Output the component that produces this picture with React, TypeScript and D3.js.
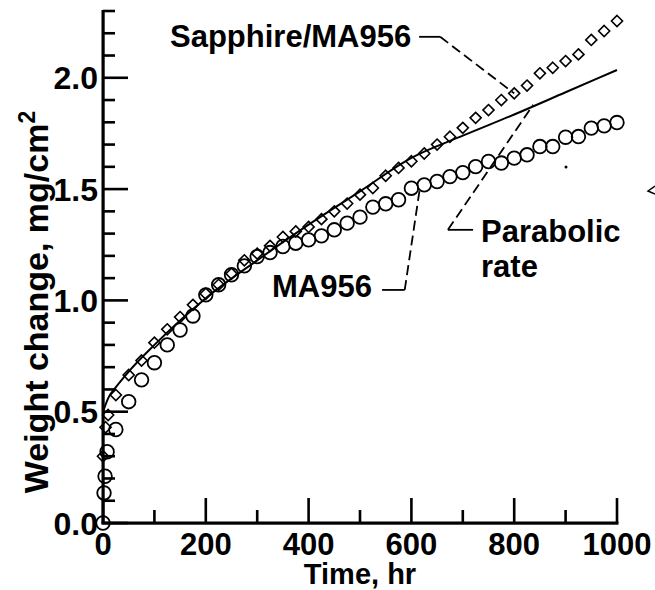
import * as d3 from "d3";

// Sapphire/MA956 (diamonds)
const sapphireTime = [0, 5, 10, 25, 50, 75, 100, 125, 150, 175, 200, 225, 250, 275, 300, 325, 350, 375, 400, 425, 450, 475, 500, 525, 550, 575, 600, 625, 650, 675, 700, 725, 750, 775, 800, 825, 850, 875, 900, 925, 950, 975, 1000];
const sapphireWeight = [0.30, 0.43, 0.485, 0.575, 0.665, 0.73, 0.81, 0.87, 0.925, 0.98, 1.03, 1.07, 1.12, 1.18, 1.21, 1.245, 1.285, 1.31, 1.33, 1.365, 1.40, 1.435, 1.475, 1.505, 1.56, 1.595, 1.625, 1.66, 1.70, 1.735, 1.775, 1.82, 1.855, 1.90, 1.93, 1.965, 2.02, 2.045, 2.075, 2.105, 2.17, 2.21, 2.255];

// MA956 (circles)
const ma956Time = [0, 2, 4, 8, 25, 50, 75, 100, 125, 150, 175, 200, 225, 250, 275, 300, 325, 350, 375, 400, 425, 450, 475, 500, 525, 550, 575, 600, 625, 650, 675, 700, 725, 750, 775, 800, 825, 850, 875, 900, 925, 950, 975, 1000];
const ma956Weight = [0.0, 0.135, 0.21, 0.32, 0.42, 0.545, 0.643, 0.72, 0.80, 0.867, 0.93, 1.025, 1.07, 1.115, 1.155, 1.197, 1.215, 1.242, 1.257, 1.272, 1.29, 1.317, 1.347, 1.374, 1.419, 1.434, 1.452, 1.504, 1.519, 1.534, 1.556, 1.574, 1.601, 1.624, 1.617, 1.639, 1.654, 1.691, 1.691, 1.733, 1.736, 1.774, 1.784, 1.799];

// parabolic rate curve
const parabolicTime = [0, 10, 25, 50, 100, 150, 200, 300, 400, 500, 600, 700, 800, 900, 1000];
const parabolicWeight = [0.50, 0.56, 0.61, 0.68, 0.80, 0.91, 1.01, 1.18, 1.34, 1.49, 1.64, 1.74, 1.835, 1.935, 2.035];

const xMajorTicks = [0, 200, 400, 600, 800, 1000];
const xMinorTicks = [100, 300, 500, 700, 900];
const yMajorTicks = [0, 0.5, 1.0, 1.5, 2.0];
const yMinorTicks = [0.1, 0.2, 0.3, 0.4, 0.6, 0.7, 0.8, 0.9, 1.1, 1.2, 1.3, 1.4, 1.6, 1.7, 1.8, 1.9, 2.1, 2.2, 2.3];

const FONT = "'Liberation Sans', Arial, Helvetica, sans-serif";

export default function App() {
  const width = 655;
  const height = 590;

  const x = d3.scaleLinear().domain([0, 1000]).range([103, 617]);
  const y = d3.scaleLinear().domain([0, 2.3]).range([523, 11]);

  const line = d3
    .line()
    .x((d) => x(d[0]))
    .y((d) => y(d[1]))
    .curve(d3.curveMonotoneX);

  const parabolic = parabolicTime.map((t, i) => [t, parabolicWeight[i]]);
  const sapphire = sapphireTime.map((t, i) => [t, sapphireWeight[i]]);
  const ma956 = ma956Time.map((t, i) => [t, ma956Weight[i]]);

  const diamond = d3.symbol().type(d3.symbolDiamond2).size(78)();

  const textStyle = { fontFamily: FONT, fontSize: 31, fontWeight: "bold" };
  const fmtY = d3.format(".1f");

  // leader lines, in data units
  const leader = (pts) => d3.line().x((d) => x(d[0])).y((d) => y(d[1]))(pts);

  const x0 = x(0);
  const y0 = y(0);
  const tw = 2.6; // tick thickness

  return (
    <svg
      width={width}
      height={height}
      style={{ position: "absolute", left: 0, top: 0, background: "#fff" }}
    >
      <rect width={width} height={height} fill="#fff" />

      <path d={line(parabolic)} fill="none" stroke="#000" strokeWidth={2} />

      {sapphire.map(([t, w], i) => (
        <path
          key={`s-${i}`}
          d={diamond}
          transform={`translate(${x(t)},${y(w)})`}
          fill="none"
          stroke="#000"
          strokeWidth={1.6}
        />
      ))}
      {ma956.map(([t, w], i) => (
        <circle key={`m-${i}`} cx={x(t)} cy={y(w)} r={6.8} fill="none" stroke="#000" strokeWidth={1.8} />
      ))}

      {/* axes with inward ticks */}
      <g fill="#000">
        {yMinorTicks.map((v) => (
          <rect key={`ym-${v}`} x={x0} y={y(v) - tw / 2} width={12} height={tw} />
        ))}
        {yMajorTicks.map((v) => (
          <rect key={`yM-${v}`} x={x0} y={y(v) - tw / 2} width={25} height={tw} />
        ))}
        {xMinorTicks.map((v) => (
          <rect key={`xm-${v}`} x={x(v) - tw / 2} y={y0 - 13} width={tw} height={13} />
        ))}
        {xMajorTicks.map((v) => (
          <rect key={`xM-${v}`} x={x(v) - tw / 2} y={y0 - 25} width={tw} height={25} />
        ))}
        <rect x={x0 - 1.5} y={y(2.3) - 1} width={3.2} height={y0 - y(2.3) + 2} />
        <rect x={x0 - 1.5} y={y0 - 1.5} width={x(1000) - x0 + 3} height={3.2} />
      </g>

      {yMajorTicks.map((v) => (
        <text key={`yl-${v}`} x={x0 - 5} y={y(v)} dy="0.36em" textAnchor="end" {...textStyle} fontSize={32}>
          {fmtY(v)}
        </text>
      ))}
      {xMajorTicks.map((v) => (
        <text key={`xl-${v}`} x={x(v)} y={y0 + 32} textAnchor="middle" {...textStyle}>
          {v}
        </text>
      ))}

      {/* annotations */}
      <text x={170} y={47} {...textStyle}>Sapphire/MA956</text>
      <path d={leader([[615, 2.184], [656, 2.184]])} stroke="#000" strokeWidth={1.8} fill="none" />
      <path d={leader([[656, 2.184], [800, 1.93]])} stroke="#000" strokeWidth={1.8} fill="none" strokeDasharray="10,5" />

      <text x={481} y={242} {...textStyle}>Parabolic</text>
      <text x={481} y={277} {...textStyle}>rate</text>
      <path d={leader([[720, 1.317], [671, 1.317]])} stroke="#000" strokeWidth={1.8} fill="none" />
      <path d={leader([[671, 1.317], [837, 1.879]])} stroke="#000" strokeWidth={1.8} fill="none" strokeDasharray="10,5" />

      <text x={272} y={297} {...textStyle}>MA956</text>
      <path d={leader([[543, 1.047], [587, 1.047]])} stroke="#000" strokeWidth={1.8} fill="none" />
      <path d={leader([[587, 1.047], [617, 1.512]])} stroke="#000" strokeWidth={1.8} fill="none" strokeDasharray="10,5" />

      {/* small specks from the scan */}
      <circle cx={566} cy={167} r={1.5} fill="#000" />
      <path d="M655,186 L648,191 L655,194" fill="none" stroke="#000" strokeWidth={1.5} />

      {/* axis titles */}
      <text x={360} y={584} textAnchor="middle" {...textStyle} fontSize={29}>Time, hr</text>
      <text
        transform="translate(48,302) rotate(-90)"
        textAnchor="middle"
        {...textStyle}
        fontSize={34}
      >
        Weight change, mg/cm<tspan fontSize={23} dy={-13}>2</tspan>
      </text>
    </svg>
  );
}
